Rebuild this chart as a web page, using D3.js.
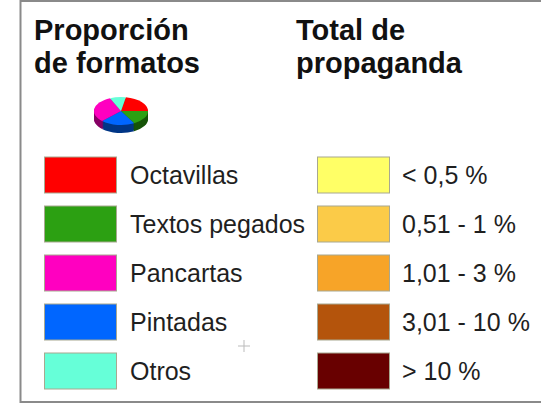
<!DOCTYPE html>
<html><head><meta charset="utf-8">
<script src="https://cdn.jsdelivr.net/npm/d3@7"></script>
<style>html,body{margin:0;padding:0;background:#fff}svg{display:block}
text{font-family:"Liberation Sans",Arial,sans-serif;fill:#1f1f1f}</style></head>
<body><svg id="c" width="541" height="405"></svg>
<script>
const formatLabels = ["Octavillas","Textos pegados","Pancartas","Pintadas","Otros"];
const formatColors = ["#ff0000","#2ca012","#ff00c0","#0066ff","#66ffd8"];
const totalLabels = ["< 0,5 %","0,51 - 1 %","1,01 - 3 %","3,01 - 10 %","> 10 %"];
const totalColors = ["#ffff66","#fbcb48","#f7a428","#b4540c","#680000"];
const pieValues = [22,17,31,20.5,9.5];
const pieOrder = [0,1,3,2,4];
const titleLeft = ["Proporción","de formatos"];
const titleRight = ["Total de","propaganda"];

const svg = d3.select("#c");
svg.append("rect").attr("x",20.5).attr("y",1).attr("width",540).attr("height",401)
  .attr("fill","#fff").attr("stroke","#8a8a8a").attr("stroke-width",2);

const title = (lines,x)=>svg.selectAll(null).data(lines).join("text")
  .attr("x",x).attr("y",(d,i)=>40+i*33).attr("font-size",29).attr("font-weight",700)
  .style("fill","#111").text(d=>d);
title(titleLeft,34); title(titleRight,296);

const rowY = d3.scalePoint().domain(d3.range(5)).range([175,371]);
function legend(labels,colors,bx,tx){
  const g = svg.append("g");
  g.selectAll("rect").data(labels).join("rect")
    .attr("x",bx).attr("y",(d,i)=>rowY(i)-18).attr("width",72).attr("height",36)
    .attr("fill",(d,i)=>colors[i]).attr("stroke","#a8a890").attr("stroke-width",1);
  g.selectAll("text").data(labels).join("text")
    .attr("x",tx).attr("y",(d,i)=>rowY(i)+9).attr("font-size",25).text(d=>d);
}
legend(formatLabels,formatColors,44.5,130);
legend(totalLabels,totalColors,317.5,402);

// 3D pie
const cx=121, cy=111, depth=8, sy=0.52, R=27;
const arcs = d3.pie().sort(null).value(d=>pieValues[d])
  .startAngle(0.18).endAngle(0.18+2*Math.PI)(pieOrder);
const arcGen = d3.arc().innerRadius(0).outerRadius(R);
for(let k=depth;k>0;k-=1){
  svg.append("g").attr("transform",`translate(${cx},${cy+k}) scale(1,${sy})`)
    .selectAll("path").data(arcs).join("path").attr("d",arcGen)
    .attr("fill",d=>d3.rgb(formatColors[d.data]).darker(1.8));
}
svg.append("g").attr("transform",`translate(${cx},${cy}) scale(1,${sy})`)
  .selectAll("path").data(arcs).join("path").attr("d",arcGen)
  .attr("fill",d=>formatColors[d.data]);

// small cross mark
svg.append("path").attr("d",d3.line()([[238,346],[250,346]])).attr("stroke","#bbb").attr("fill","none");
svg.append("path").attr("d",d3.line()([[244,340],[244,352]])).attr("stroke","#bbb").attr("fill","none");
</script></body></html>
